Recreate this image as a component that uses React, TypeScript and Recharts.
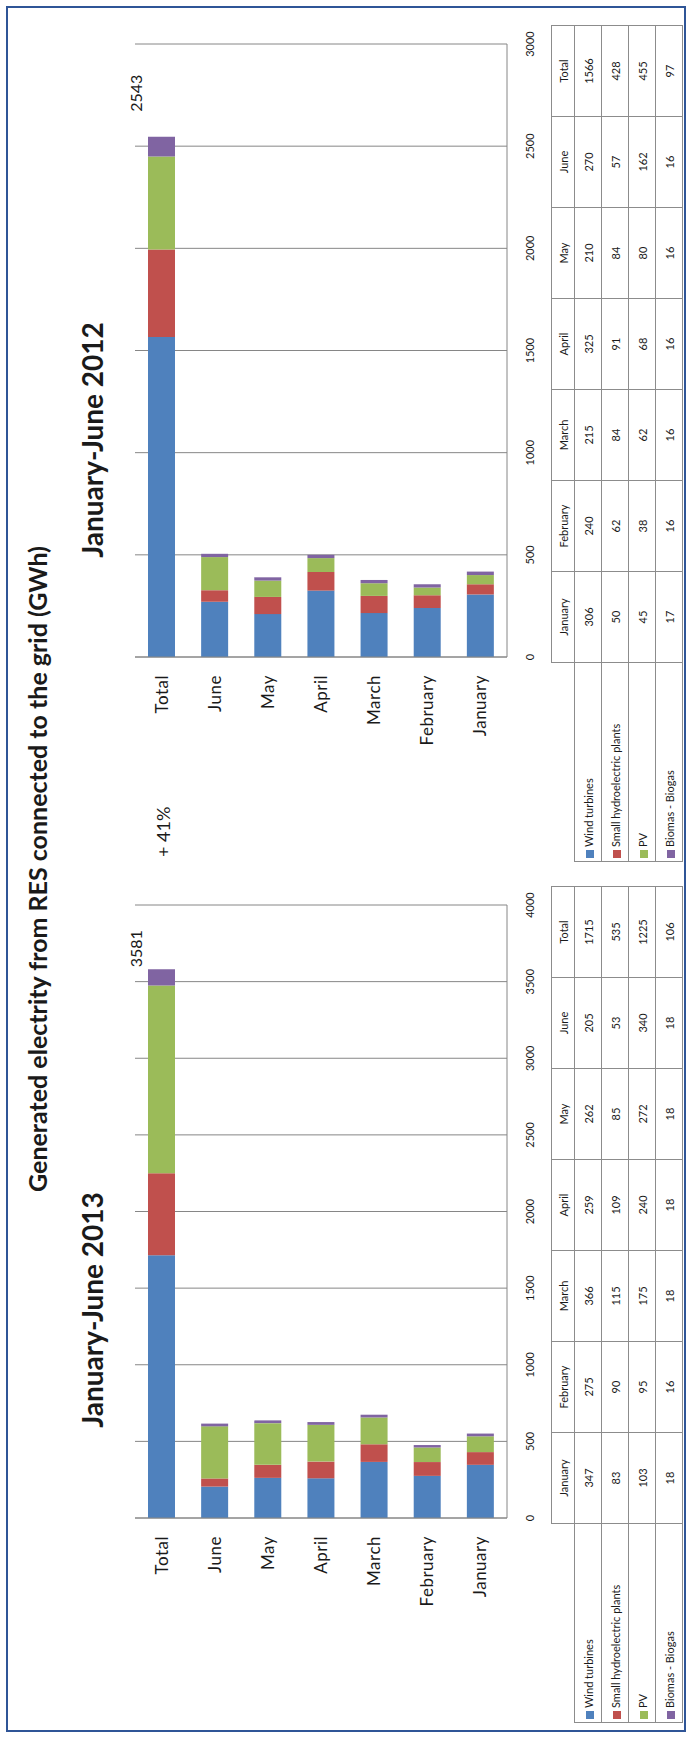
import React from "react";
import { Bar, BarChart, CartesianGrid, LabelList, XAxis, YAxis } from "recharts";

// the whole picture is a landscape sheet turned a quarter turn to the left
const MONTHS = ["January", "February", "March", "April", "May", "June", "Total"];
const SERIES = ["Wind turbines", "Small hydroelectric plants", "PV", "Biomas - Biogas"];

const WIND_2013 = [347, 275, 366, 259, 262, 205, 1715];
const HYDRO_2013 = [83, 90, 115, 109, 85, 53, 535];
const PV_2013 = [103, 95, 175, 240, 272, 340, 1225];
const BIO_2013 = [18, 16, 18, 18, 18, 18, 106];

const WIND_2012 = [306, 240, 215, 325, 210, 270, 1566];
const HYDRO_2012 = [50, 62, 84, 91, 84, 57, 428];
const PV_2012 = [45, 38, 62, 68, 80, 162, 455];
const BIO_2012 = [17, 16, 16, 16, 16, 16, 97];

const TICKS_2013 = [0, 500, 1000, 1500, 2000, 2500, 3000, 3500, 4000];
const TICKS_2012 = [0, 500, 1000, 1500, 2000, 2500, 3000];

const TOTAL_2013 = 3581;
const TOTAL_2012 = 2543;

const TITLE = "Generated electrity from RES connected to the grid (GWh)";
const CHANGE = "+ 41%";

const C = {
  wind: "#4f81bd",
  hydro: "#c0504d",
  pv: "#9bbb59",
  bio: "#8064a2",
  grid: "#868686",
  text: "#1a1a1a",
  border: "#2f5597",
  cell: "#8c8c8c",
};
const COLORS = [C.wind, C.hydro, C.pv, C.bio];

function rows(w: number[], h: number[], p: number[], b: number[]) {
  return MONTHS.map((m, i) => ({ month: m, wind: w[i], hydro: h[i], pv: p[i], bio: b[i] })).reverse();
}

function Panel({
  left,
  data,
  ticks,
  total,
  labelGap,
}: {
  left: number;
  data: any[];
  ticks: number[];
  total: number;
  labelGap: number;
}) {
  const max = ticks[ticks.length - 1];
  return (
    <div style={{ position: "absolute", left, top: 0 }}>
      <BarChart
        width={850}
        height={560}
        data={data}
        layout="vertical"
        margin={{ top: 135, right: 37, bottom: 23, left: 80 }}
      >
        <CartesianGrid horizontal={false} stroke={C.grid} />
        <XAxis
          type="number"
          domain={[0, max]}
          ticks={ticks}
          interval={0}
          height={30}
          tickLine={false}
          axisLine={{ stroke: C.grid }}
          tickMargin={13}
          tick={{ fontSize: 11, fill: C.text }}
        />
        <YAxis
          type="category"
          dataKey="month"
          width={120}
          tickLine={false}
          axisLine={{ stroke: C.grid }}
          tickMargin={12}
          tick={{ fontSize: 17, fill: C.text, letterSpacing: 0.5 }}
        />
        <Bar dataKey="wind" stackId="s" fill={C.wind} barSize={27} isAnimationActive={false} />
        <Bar dataKey="hydro" stackId="s" fill={C.hydro} barSize={27} isAnimationActive={false} />
        <Bar dataKey="pv" stackId="s" fill={C.pv} barSize={27} isAnimationActive={false} />
        <Bar dataKey="bio" stackId="s" fill={C.bio} barSize={27} isAnimationActive={false}>
          <LabelList
            dataKey="bio"
            content={(p: any) =>
              p.index === 0 ? (
                <text x={p.x + p.width + labelGap} y={p.y - 6} fontSize={16} fill={C.text}>
                  {total}
                </text>
              ) : null
            }
          />
        </Bar>
      </BarChart>
    </div>
  );
}

function DataTable({ left, values }: { left: number; values: number[][] }) {
  const cell: React.CSSProperties = { border: `1px solid ${C.cell}`, textAlign: "center", padding: 0 };
  return (
    <table
      style={{
        position: "absolute",
        left,
        top: 551,
        width: 836,
        borderCollapse: "collapse",
        tableLayout: "fixed",
        fontSize: 11,
        color: C.text,
      }}
    >
      <colgroup>
        <col style={{ width: 199 }} />
        {MONTHS.map((m) => (
          <col key={m} style={{ width: 91 }} />
        ))}
      </colgroup>
      <tbody>
        <tr style={{ height: 23 }}>
          <td style={{ border: "none", padding: 0 }} />
          {MONTHS.map((m) => (
            <td key={m} style={cell}>
              {m}
            </td>
          ))}
        </tr>
        {SERIES.map((name, s) => (
          <tr key={name} style={{ height: 27 }}>
            <td style={{ ...cell, textAlign: "left", paddingLeft: 3, whiteSpace: "nowrap" }}>
              <span
                style={{
                  display: "inline-block",
                  width: 8,
                  height: 8,
                  background: COLORS[s],
                  marginRight: 3,
                  verticalAlign: "-1px",
                }}
              />
              {name}
            </td>
            {values[s].map((v, i) => (
              <td key={i} style={cell}>
                {v}
              </td>
            ))}
          </tr>
        ))}
      </tbody>
    </table>
  );
}

export default function App() {
  return (
    <div
      style={{
        position: "absolute",
        left: 0,
        top: 0,
        width: 692,
        height: 1738,
        overflow: "hidden",
        background: "#fff",
        fontFamily: "Lato, 'Open Sans', sans-serif",
      }}
    >
      <div
        style={{
          position: "absolute",
          left: 0,
          top: 0,
          width: 1738,
          height: 692,
          transformOrigin: "0 0",
          transform: "translate(0px, 1738px) rotate(-90deg)",
        }}
      >
        <div
          style={{
            position: "absolute",
            left: 6,
            top: 6,
            width: 1726,
            height: 680,
            boxSizing: "border-box",
            border: `2px solid ${C.border}`,
          }}
        />
        <Panel
          left={20}
          data={rows(WIND_2013, HYDRO_2013, PV_2013, BIO_2013)}
          ticks={TICKS_2013}
          total={TOTAL_2013}
          labelGap={2}
        />
        <Panel
          left={881}
          data={rows(WIND_2012, HYDRO_2012, PV_2012, BIO_2012)}
          ticks={TICKS_2012}
          total={TOTAL_2012}
          labelGap={25}
        />
        <DataTable left={15} values={[WIND_2013, HYDRO_2013, PV_2013, BIO_2013]} />
        <DataTable left={876} values={[WIND_2012, HYDRO_2012, PV_2012, BIO_2012]} />
        <svg
          width={1738}
          height={692}
          style={{ position: "absolute", left: 0, top: 0, pointerEvents: "none" }}
        >
          <text x={869} y={47} textAnchor="middle" fontSize={25} fontWeight="bold" fill={C.text}>
            {TITLE}
          </text>
          <text x={428} y={103} textAnchor="middle" fontSize={28} fontWeight="bold" fill={C.text}>
            January-June 2013
          </text>
          <text x={1298} y={103} textAnchor="middle" fontSize={28} fontWeight="bold" fill={C.text}>
            January-June 2012
          </text>
          <text x={881} y={170} fontSize={18} fill={C.text}>
            {CHANGE}
          </text>
        </svg>
      </div>
    </div>
  );
}
